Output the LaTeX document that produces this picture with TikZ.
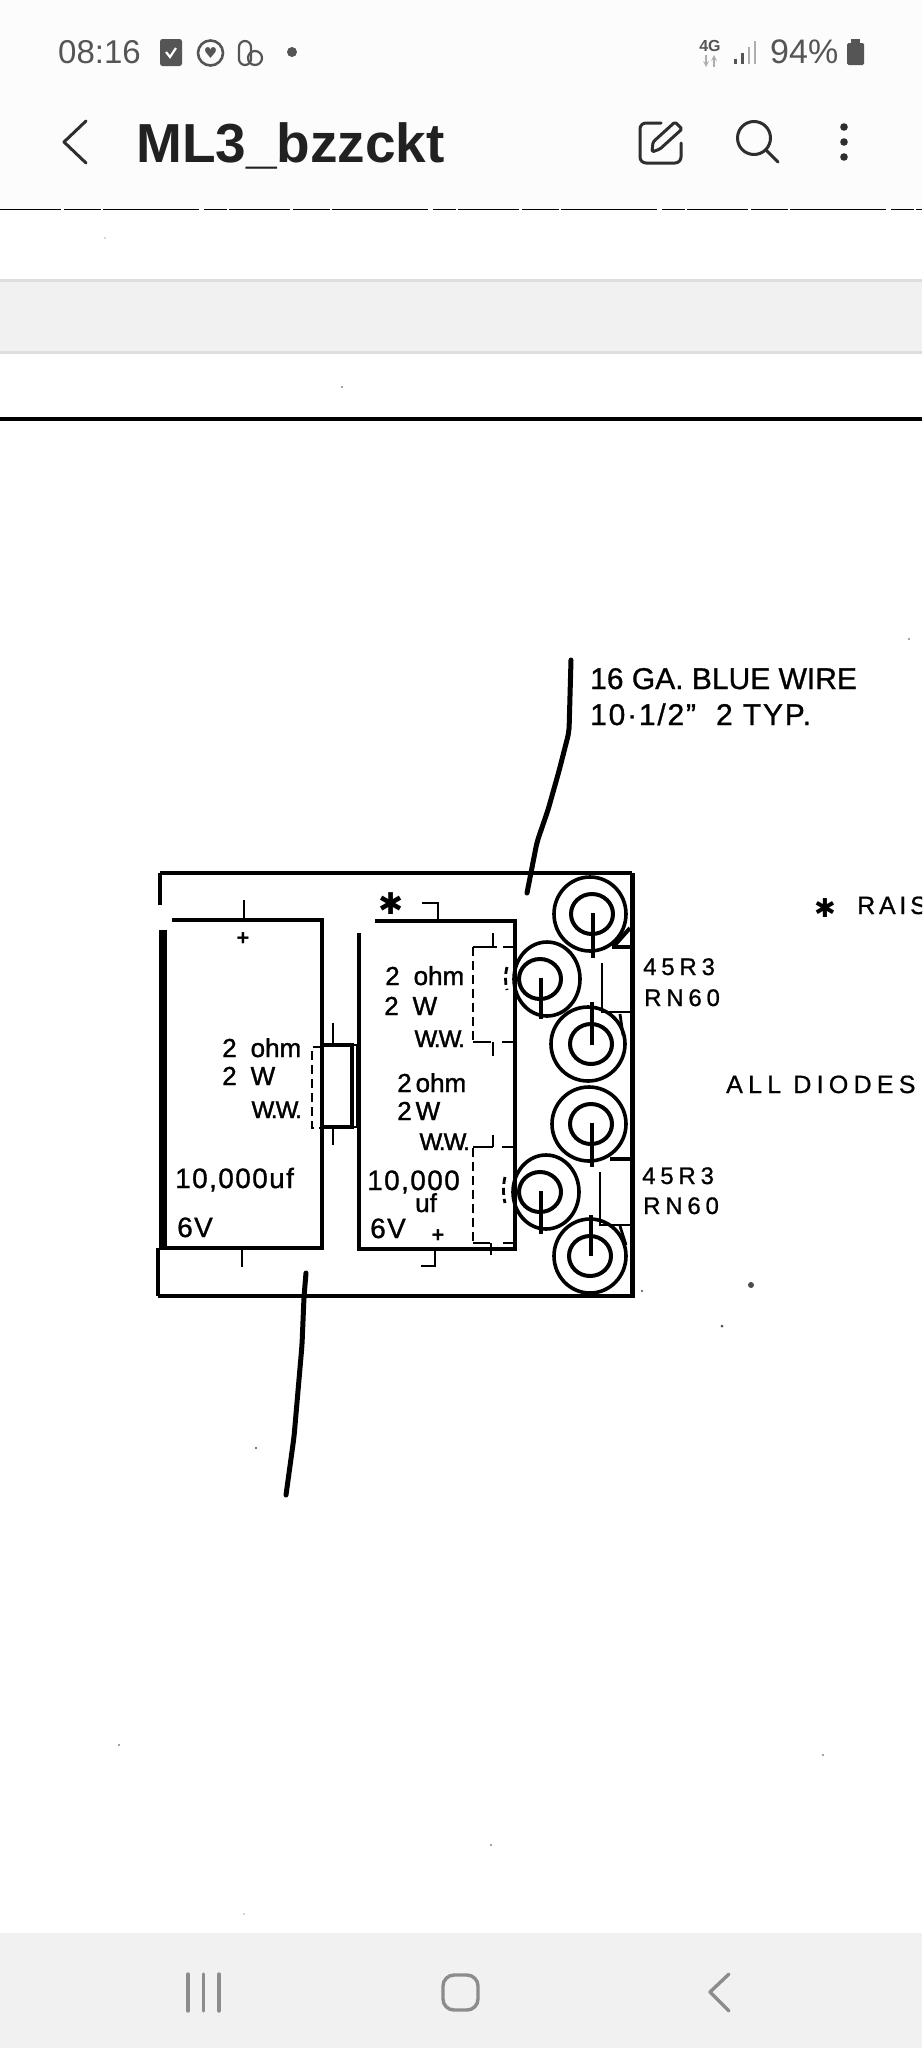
\documentclass[tikz,border=0pt]{standalone}
\usepackage{fontspec}
\setmainfont{Liberation Sans}
\newfontfamily\symfont{DejaVu Sans}
\definecolor{barbg}{HTML}{FCFCFC}
\definecolor{navbg}{HTML}{F1F1F1}
\definecolor{bandline}{HTML}{DEDEDE}
\definecolor{statusgray}{HTML}{555555}
\definecolor{icongray}{HTML}{2E2E2E}
\definecolor{navgray}{HTML}{8C8C8C}
\tikzset{
  wall/.style = {line width = 4},
  wire/.style = {line width = 5, line cap = round, line join = round, rounded corners = 6},
  hidden/.style = {line width = 2.8, dash pattern = on 9 off 5},
  lead/.style = {line width = 2.8},
  valtxt/.style = {anchor = base west, inner sep = 0, font = \fontsize{26}{26}\selectfont\addfontfeature{FakeBold=1.3}},
  captxt/.style = {anchor = base west, inner sep = 0, font = \fontsize{28}{28}\selectfont\addfontfeature{FakeBold=1,LetterSpace=5}},
  wwtxt/.style = {anchor = base east, inner sep = 0, font = \fontsize{24}{24}\selectfont\addfontfeature{FakeBold=1.6,LetterSpace=-8}},
  plustxt/.style = {inner sep = 0, font = \fontsize{22}{22}\selectfont\bfseries},
  notetxt/.style = {anchor = base west, inner sep = 0, font = \fontsize{30}{30}\selectfont\addfontfeature{FakeBold=0.9}},
  parttxt/.style = {anchor = base west, inner sep = 0, font = \fontsize{24}{24}\selectfont\addfontfeature{FakeBold=0.8,LetterSpace=20}},
  statustxt/.style = {anchor = base west, inner sep = 0, text = statusgray, font = \fontsize{33}{33}\selectfont},
  navline/.style = {draw = navgray, line width = 3.4, line cap = round, line join = round},
  iconline/.style = {draw = icongray, line width = 3, line cap = round, line join = round}
}
\begin{document}
\begin{tikzpicture}[x = 1pt, y = -1pt]
\useasboundingbox (0,0) rectangle (922,2048);
\begin{scope}
\clip (0,0) rectangle (922,2048);
\fill [white] (0,0) rectangle (922,2048);
\fill [barbg] (0,0) rectangle (922,209);
\fill [navbg] (0,280) rectangle (922,352);
\draw [bandline, line width = 3] (0,280) -- (922,280);
\draw [bandline, line width = 3] (0,352) -- (922,352);
\draw [line width = 1.6, dash pattern = on 61 off 3 on 37 off 2 on 96 off 5 on 23 off 2] (0,209.5) -- (922,209.5);
\draw [line width = 4.2] (0,419) -- (922,419);
\fill [navbg] (0,1933) rectangle (922,2048);

\node [statustxt] (clock) at (58,63) {08:16};
\fill [statusgray, rounded corners = 2.5] (160,39) rectangle (182,66);
\draw [white, line width = 2.2] (166,52) -- (170,57) -- (176,48);
\draw [statusgray, line width = 2.6] (210.5,53) circle [radius = 12.5];
\node [inner sep = 0, text = statusgray, font = \symfont\fontsize{15}{15}\selectfont] (heart) at (210.5,53) {♥};
\draw [statusgray, line width = 2.2, rounded corners = 6] (239,41) rectangle (251,65);
\draw [statusgray, line width = 2.2] (255,58) circle [radius = 7];
\fill [statusgray] (292,52) circle [radius = 5];
\node [inner sep = 0, text = statusgray, font = \bfseries\fontsize{16}{16}\selectfont] (netg) at (710,46) {4G};
\draw [navgray!70, line width = 1.6, -stealth] (706,55) -- (706,67);
\draw [navgray!70, line width = 1.6, -stealth] (714,67) -- (714,55);
\fill [statusgray] (734,59) rectangle (737,64);
\fill [statusgray] (741,53) rectangle (744,64);
\fill [navgray!70] (748,47) rectangle (750,64);
\fill [navgray!70] (754,41) rectangle (756,64);
\node [statustxt, font = \fontsize{34}{34}\selectfont] (batt) at (770,63) {94\%};
\fill [statusgray, rounded corners = 1.5] (847,43) rectangle (864,65);
\fill [statusgray] (851,39) rectangle (860,44);

\draw [iconline] (86,121) -- (64,142) -- (86,163);
\node [anchor = base west, inner sep = 0, text = black!87, font = \bfseries\fontsize{55}{55}\selectfont] (title) at (136,162) {ML3\_bzzckt};
\draw [iconline, rounded corners = 6] (661,123) -- (640,123) -- (640,163) -- (681,163) -- (681,143);
\draw [iconline, rounded corners = 1.5] (675,122) -- (682,129) -- (660,149) -- (652,152) -- (653,142) -- cycle;
\draw [iconline] (754,138) circle [radius = 16.5];
\draw [iconline] (766,150) -- (778,162);
\foreach \doty in {127,142,157} \fill [icongray] (844,\doty) circle [radius = 3.8];

\draw [wall] (160,873) -- (632,873);
\draw [wall] (160,873) -- (160,905);
\draw [wall] (158,1296) -- (632,1296);
\draw [wall] (158,1248) -- (158,1296);
\draw [line width = 5] (632,873) -- (632,1298);

\draw [line width = 8] (163,930) -- (163,1250);
\draw [wall] (172,920) -- (322,920) -- (322,1248) -- (163,1248);
\draw [wall] (375,921) -- (515,921) -- (515,1249) -- (359,1249) -- (359,933);
\draw [lead] (244,900) -- (244,920);
\draw [lead] (242,1249) -- (242,1267);
\draw [lead] (422,903) -- (438,903) -- (438,921);
\draw [lead] (435,1250) -- (435,1266) -- (421,1266);

\draw [wall] (322,1045) -- (352,1045) -- (352,1127) -- (322,1127);
\draw [lead] (333,1023) -- (333,1045);
\draw [lead] (333,1127) -- (333,1145);
\draw [line width = 1.6] (352,1045) -- (357,1045) -- (357,1127) -- (352,1127);
\draw [hidden] (322,1047) -- (312,1047) -- (312,1128) -- (322,1128);

\draw [hidden] (473,947) -- (473,1042);
\draw [lead] (473,947) -- (497,947);
\draw [lead] (493,933) -- (493,947);
\draw [lead] (473,1042) -- (491,1042);
\draw [lead] (493,1042) -- (493,1056);
\draw [lead] (502,1042) -- (513,1042);
\draw [lead] (503,947) -- (513,947);
\draw [hidden] (473,1148) -- (473,1243);
\draw [lead] (473,1147) -- (493,1147);
\draw [lead] (493,1135) -- (493,1147);
\draw [lead] (502,1147) -- (513,1147);
\draw [lead] (473,1243) -- (490,1243);
\draw [lead] (491,1243) -- (491,1255);
\draw [lead] (503,1243) -- (513,1243);
\draw [lead, dash pattern = on 7 off 4] (507,967) .. controls (505,975) and (505,982) .. (507,990);
\draw [lead, dash pattern = on 7 off 4] (505,1177) .. controls (503,1185) and (503,1195) .. (505,1203);

\foreach \cx/\cy/\rx/\ix/\stema/\stemb in {590/914/36/593/913/958, 547/979/33/541/978/1019, 588/1044/37/592/1002/1045, 589/1124/37/592/1123/1167, 546/1192/33/541/1191/1234, 590/1256/36/591/1215/1256} {
  \draw [line width = 3.6] (\cx,\cy) ellipse [x radius = \rx, y radius = 37];
  \draw [line width = 4] (\ix-1,\cy) ellipse [x radius = 21, y radius = 20];
  \draw [line width = 3.6] (\ix,\stema) -- (\ix,\stemb);
}

\draw [lead] (602,963) -- (602,1012) -- (632,1012);
\draw [line width = 4] (612,947) -- (632,947);
\draw [line width = 4] (614,946) -- (630,928);
\draw [lead] (620,1014) -- (623,1035);
\draw [lead] (600,1172) -- (600,1225) -- (632,1225);
\draw [line width = 4] (610,1159) -- (632,1159);
\draw [lead] (620,1226) -- (626,1245);

\coordinate (wireatop) at (571,660);
\coordinate (wirebtop) at (527,893);
\coordinate (wireabot) at (306,1273);
\coordinate (wirebbot) at (286,1495);
\draw [wire] (wireatop) -- (569,732) -- (559,771) -- (548,810) -- (537,842) -- (wirebtop);
\draw [wire] (wireabot) -- (304,1297) -- (302,1345) -- (294,1437) -- (wirebbot);

\node [valtxt] (ohmla) at (222,1057) {2\hspace{14pt}ohm};
\node [valtxt] (wattla) at (222,1085) {2\hspace{14pt}W};
\node [wwtxt] (wwla) at (302,1118) {W.W.};
\node [captxt] (capla) at (175,1188) {10,000uf};
\node [captxt] (voltla) at (177,1237) {6V};
\node [plustxt] (plusla) at (243,939) {+};

\node [valtxt] (ohmra) at (385,985) {2\hspace{14pt}ohm};
\node [valtxt] (wattra) at (384,1015) {2\hspace{14pt}W};
\node [wwtxt] (wwra) at (465,1047) {W.W.};
\node [valtxt] (ohmrb) at (397,1092) {2\hspace{4pt}ohm};
\node [valtxt] (wattrb) at (397,1120) {2\hspace{4pt}W};
\node [wwtxt] (wwrb) at (470,1150) {W.W.};
\node [captxt] (caprb) at (367,1190) {10,000};
\node [valtxt] (ufrb) at (415,1212) {uf};
\node [captxt] (voltrb) at (370,1238) {6V};
\node [plustxt] (plusrb) at (438,1236) {+};
\node [font = \symfont\fontsize{30}{30}\selectfont, inner sep = 0] (starr) at (391,904) {✱};

\node [notetxt] (gauge) at (590,689) {16 GA. BLUE WIRE};
\node [notetxt, font = \fontsize{30}{30}\selectfont\addfontfeature{FakeBold=0.9,LetterSpace=6}] (length) at (590,725) {10·1/2"\hspace{20pt}2 TYP.};
\node [font = \symfont\fontsize{26}{26}\selectfont, inner sep = 0] (starn) at (825,908) {✱};
\node [parttxt, font = \fontsize{25}{25}\selectfont\addfontfeature{FakeBold=0.8,LetterSpace=15}] (raise) at (857,914) {RAIS};
\node [parttxt, font = \fontsize{25}{25}\selectfont\addfontfeature{FakeBold=0.8,LetterSpace=21}] (diodes) at (726,1093) {ALL DIODES};
\node [parttxt] (parta) at (643,975) {45R3};
\node [parttxt] (typea) at (644,1006) {RN60};
\node [parttxt] (partb) at (642,1184) {45R3};
\node [parttxt] (typeb) at (643,1214) {RN60};

\foreach \sx/\sy/\sr in {751/1285/3, 722/1326/1.5, 642/1291/1.2, 256/1448/1.2, 119/1745/.8, 491/1845/.8, 342/387/.8, 823/1755/.8, 909/639/.8, 105/238/.6, 244/1914/.6}
  \fill [black!70] (\sx,\sy) circle [radius = \sr];

\foreach \barx in {188,203.5,219} \draw [navline] (\barx,1974) -- (\barx,2011);
\draw [navline, rounded corners = 11] (443,1975) rectangle (478,2010);
\draw [navline] (729,1974) -- (710,1992) -- (729,2011);
\end{scope}
\end{tikzpicture}
\end{document}
